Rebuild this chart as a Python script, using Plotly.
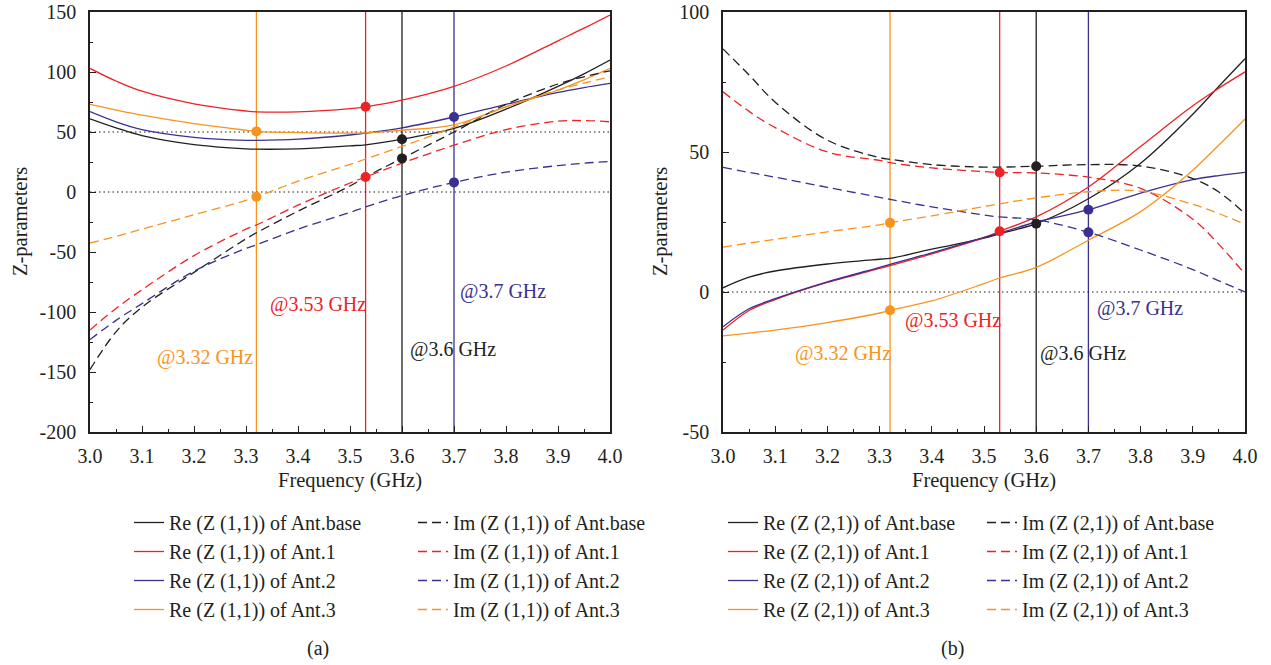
import plotly.graph_objects as go

# ---------------------------------------------------------------- data
freq = [3.0, 3.05, 3.1, 3.2, 3.3, 3.32, 3.4, 3.5, 3.53, 3.6, 3.7, 3.8, 3.9, 3.95, 4.0]

# Z(1,1), ohms
re11_base = [61, 53.5, 47, 39.5, 36, 35.7, 36, 38.5, 39.3, 44, 53, 69, 88, 98.5, 110]
re11_ant1 = [103, 92.5, 84, 73.5, 67.5, 66.8, 66.8, 69.5, 71, 76.5, 88, 105, 126, 136.5, 147.5]
re11_ant2 = [67, 58.5, 52, 45.5, 43, 43, 44, 47.5, 49, 53.5, 62.5, 73, 83, 87, 90.5]
re11_ant3 = [73, 68.3, 64, 57, 51.5, 50.5, 49.5, 49, 49.3, 51.5, 56, 71, 85, 93.5, 103]
im11_base = [-148, -116.5, -96, -67, -39, -34, -16, 5, 12.5, 28, 50, 73, 90, 96, 101]
im11_ant1 = [-115, -97, -81.5, -53, -31, -27.5, -11, 7.5, 12.5, 24, 39, 52, 59, 59.5, 58.5]
im11_ant2 = [-123, -107, -93, -66, -47, -44, -31, -17, -12.5, -3, 8, 16.5, 22, 24, 25.5]
im11_ant3 = [-42.5, -37, -31, -19, -7, -4, 9, 23, 27.5, 38, 54, 71, 85, 90.8, 96]

# Z(2,1), ohms
re21_base = [1.5, 5.3, 7.5, 10, 11.7, 12, 15.3, 19.2, 20.8, 24.4, 33.3, 46, 63.5, 73.5, 83.3]
re21_ant1 = [-13.6, -6.6, -2.7, 3.4, 8.4, 9.4, 13.6, 19.4, 21.7, 26.8, 37.5, 52, 66.5, 72.8, 78.6]
re21_ant2 = [-12.4, -6.0, -2.4, 3.6, 8.8, 9.9, 14.0, 19.5, 21.0, 25.0, 29.4, 35.3, 40.1, 41.6, 42.7]
re21_ant3 = [-15.7, -14.7, -13.6, -10.9, -7.5, -6.5, -3.2, 3, 5, 8.8, 18.5, 28.7, 43.5, 52.5, 61.8]
im21_base = [86.8, 77.5, 67.8, 54.2, 48, 47.4, 45.5, 44.6, 44.6, 44.9, 45.5, 45, 40.5, 35.7, 28]
im21_ant1 = [71.5, 64.5, 58.7, 50, 47, 46.2, 44.3, 43, 42.7, 42.5, 41, 37, 26, 17, 6.4]
im21_ant2 = [44.5, 42.7, 41, 37.4, 33.8, 33.1, 30.4, 27.5, 26.8, 25.8, 21.3, 15, 8, 4, 0]
im21_ant3 = [16, 17.5, 18.8, 21.5, 24, 24.7, 27.2, 30.5, 31.5, 33.6, 35.8, 36, 31.3, 28, 24.2]

antennas = ["Ant.base", "Ant.1", "Ant.2", "Ant.3"]
# resonance frequency marked for each antenna (GHz)
mark_freq = [3.6, 3.53, 3.7, 3.32]
ref_levels_a = [0, 50]
ref_levels_b = [0]
yticks_a = [-200, -150, -100, -50, 0, 50, 100, 150]
yticks_b = [-50, 0, 50, 100]

# ---------------------------------------------------------------- style
W, H = 1271, 665
FONT = "Liberation Serif, Times New Roman, DejaVu Serif, serif"
colors = ["#231f20", "#ed2224", "#3a3091", "#f7941d"]
LW = 1.3
DASH = "9px,5px"

panels = [
    dict(tag="(1,1)", xa="x", ya="y", re=[re11_base, re11_ant1, re11_ant2, re11_ant3],
         im=[im11_base, im11_ant1, im11_ant2, im11_ant3], legs=("legend", "legend2"),
         levels=ref_levels_a),
    dict(tag="(2,1)", xa="x2", ya="y2", re=[re21_base, re21_ant1, re21_ant2, re21_ant3],
         im=[im21_base, im21_ant1, im21_ant2, im21_ant3], legs=("legend3", "legend4"),
         levels=ref_levels_b),
]

fig = go.Figure()

for p in panels:
    for k in range(4):
        fig.add_trace(go.Scatter(
            x=freq, y=p["re"][k], mode="lines", line=dict(color=colors[k], width=LW, shape="spline"),
            name=f"Re (Z {p['tag']}) of {antennas[k]}", legend=p["legs"][0],
            xaxis=p["xa"], yaxis=p["ya"]))
    for k in range(4):
        fig.add_trace(go.Scatter(
            x=freq, y=p["im"][k], mode="lines",
            line=dict(color=colors[k], width=LW, shape="spline", dash=DASH),
            name=f"Im (Z {p['tag']}) of {antennas[k]}", legend=p["legs"][1],
            xaxis=p["xa"], yaxis=p["ya"]))
    # resonance markers on both the real and imaginary curves
    for k in range(4):
        i = freq.index(mark_freq[k])
        fig.add_trace(go.Scatter(
            x=[mark_freq[k], mark_freq[k]], y=[p["re"][k][i], p["im"][k][i]], mode="markers",
            marker=dict(color=colors[k], size=10), showlegend=False, hoverinfo="skip",
            xaxis=p["xa"], yaxis=p["ya"]))
        fig.add_shape(type="line", xref=p["xa"], yref=f"{p['ya']} domain",
                      x0=mark_freq[k], x1=mark_freq[k], y0=0, y1=1,
                      line=dict(color=colors[k], width=LW), layer="below")
    for lv in p["levels"]:
        fig.add_shape(type="line", xref=f"{p['xa']} domain", yref=p["ya"],
                      x0=0, x1=1, y0=lv, y1=lv,
                      line=dict(color="#231f20", width=1.2, dash="1.5px,3px"), layer="below")

# ---------------------------------------------------------------- annotations
label_pos = {
    "x": [(3.6115, -131, "left"), (3.535, -94, "right"), (3.7077, -82.5, "left"), (3.317, -137.5, "right")],
    "x2": [(3.603, -21.8, "left"), (3.536, -10, "right"), (3.7126, -6, "left"), (3.326, -21.8, "right")],
}
for p in panels:
    for k in range(4):
        x, y, anc = label_pos[p["xa"]][k]
        fig.add_annotation(x=x, y=y, xref=p["xa"], yref=p["ya"], text=f"@{mark_freq[k]:g} GHz",
                           showarrow=False, xanchor=anc, yanchor="middle",
                           font=dict(family=FONT, size=20, color=colors[k]))

def pxx(v):
    return v / W

def pxy(v):
    return 1 - v / H

for cx, txt in [(350, "Frequency (GHz)"), (984, "Frequency (GHz)")]:
    fig.add_annotation(x=pxx(cx), y=pxy(480), xref="paper", yref="paper", text=txt,
                       showarrow=False, xanchor="center", yanchor="middle",
                       font=dict(family=FONT, size=20.5, color="#231f20"))
for cx in (21, 661):
    fig.add_annotation(x=pxx(cx), y=pxy(222), xref="paper", yref="paper", text="Z-parameters",
                       showarrow=False, textangle=-90, xanchor="center", yanchor="middle",
                       font=dict(family=FONT, size=20.5, color="#231f20"))
for cx, txt in [(318, "(a)"), (952, "(b)")]:
    fig.add_annotation(x=pxx(cx), y=pxy(648), xref="paper", yref="paper", text=txt,
                       showarrow=False, xanchor="center", yanchor="middle",
                       font=dict(family=FONT, size=20, color="#231f20"))

# ---------------------------------------------------------------- axes
def xaxis(dom, anchor):
    return dict(domain=dom, range=[3, 4], anchor=anchor, tick0=3, dtick=0.1, tickformat=".1f",
                ticks="inside", ticklen=6, tickwidth=1.2, tickcolor="#231f20",
                minor=dict(ticks="inside", ticklen=3, dtick=0.05, tickcolor="#231f20", tickwidth=1.2),
                showline=True, mirror=True, linecolor="#231f20", linewidth=1.5,
                showgrid=False, zeroline=False, automargin=False, ticklabelstandoff=5,
                tickfont=dict(family=FONT, size=20, color="#231f20"))

def yaxis(rng, tv, anchor):
    step = tv[1] - tv[0]
    return dict(domain=[1 - 432 / H, 1 - 12 / H], range=rng, anchor=anchor,
                tickmode="array", tickvals=tv, ticktext=[str(v) for v in tv],
                ticks="inside", ticklen=6, tickwidth=1.2, tickcolor="#231f20",
                minor=dict(ticks="inside", ticklen=3, tick0=rng[0], dtick=step / 2,
                           tickcolor="#231f20", tickwidth=1.2),
                showline=True, mirror=True, linecolor="#231f20", linewidth=1.5,
                showgrid=False, zeroline=False, automargin=False, ticklabelstandoff=8,
                tickfont=dict(family=FONT, size=20, color="#231f20"))

def legend(xpx, ypx):
    return dict(x=pxx(xpx), y=pxy(ypx), xanchor="left", yanchor="top", orientation="v",
                bgcolor="rgba(0,0,0,0)", borderwidth=0,
                font=dict(family=FONT, size=20, color="#231f20"))

fig.update_layout(
    width=W, height=H, margin=dict(l=0, r=0, t=0, b=0, autoexpand=False),
    paper_bgcolor="white", plot_bgcolor="white",
    font=dict(family=FONT, size=20, color="#231f20"),
    xaxis=xaxis([90 / W, 610 / W], "y"),
    yaxis=yaxis([-200, 150], yticks_a, "x"),
    xaxis2=xaxis([723 / W, 1245 / W], "y2"),
    yaxis2=yaxis([-50, 100], yticks_b, "x2"),
    legend=legend(129, 503),
    legend2=legend(413, 503),
    legend3=legend(723, 503),
    legend4=legend(982, 503),
)

fig.write_html("out.html")
